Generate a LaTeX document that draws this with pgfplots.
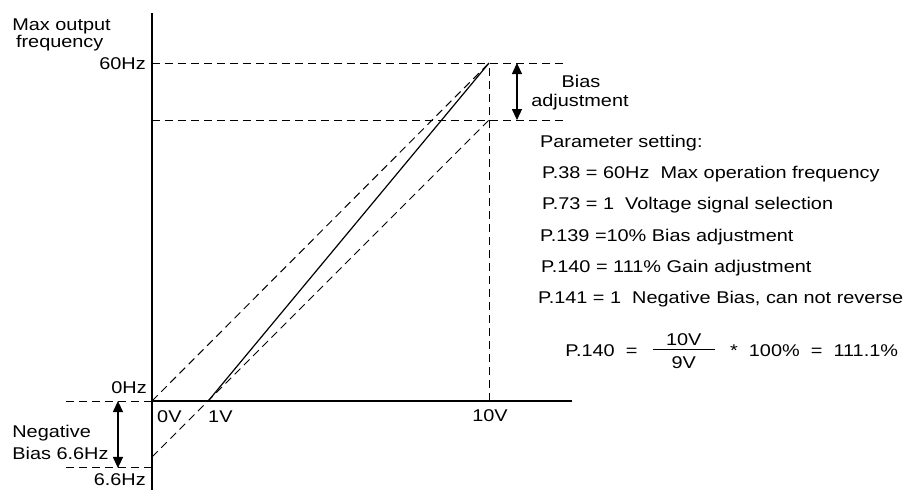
\documentclass[border=0pt]{standalone}
\usepackage{pgfplots}
\pgfplotsset{compat=1.18}
\usepackage{fontspec}
\setmainfont{Liberation Sans}[FakeStretch=1.17]
\usetikzlibrary{arrows.meta}
\tikzset{lbl/.style={font=\fontsize{17}{20}\selectfont, inner sep=0pt}}
\begin{document}
\fontsize{17}{20}\selectfont
\begin{tikzpicture}
\begin{axis}[
  x=33.7pt, y=5.633pt,
  xmin=-4.510, xmax=22.374, ymin=-15.80, ymax=71.19,
  hide axis, clip=false,
]
\path (rel axis cs:0,0) rectangle (rel axis cs:1,1);
% axes
\addplot[black, line width=1.1pt] coordinates {(0,-15.80) (0,68.88)};
\addplot[black, line width=1.1pt] coordinates {(0,0) (12.46,0)};
% dashed guide lines
\pgfplotsset{dl/.style={black, line width=1pt, dash pattern=on 8pt off 5pt}}
\addplot[dl] coordinates {(0,60) (12.34,60)};
\addplot[dl] coordinates {(0,49.88) (12.34,49.88)};
\addplot[dl] coordinates {(10,0) (10,60)};
\addplot[dl] coordinates {(-2.55,0) (0,0)};
\addplot[dl] coordinates {(-2.55,-11.89) (0,-11.89)};
% diagonal lines
\addplot[dl] coordinates {(0,0) (10,60)};
\addplot[dl] coordinates {(0,-9.94) (10,49.88)};
\addplot[black, line width=1.2pt] coordinates {(1.667,0) (10,60)};
% arrows
\addplot[black, line width=1.3pt, {Triangle[length=11pt,width=10pt]}-{Triangle[length=11pt,width=10pt]}] coordinates {(10.83,60) (10.83,49.88)};
\addplot[black, line width=1.3pt, {Triangle[length=11pt,width=10pt]}-{Triangle[length=11pt,width=10pt]}] coordinates {(-1.01,0) (-1.01,-11.89)};
% axis labels
\node[lbl, anchor=base west] at (axis cs:-4.15,65.86) {Max output};
\node[lbl, anchor=base west] at (axis cs:-4.04,62.67) {frequency};
\node[lbl, anchor=base east] at (axis cs:-0.18,58.94) {60Hz};
\node[lbl, anchor=base east] at (axis cs:-0.15,1.42) {0Hz};
\node[lbl, anchor=base east] at (axis cs:-0.18,-14.91) {6.6Hz};
\node[lbl, anchor=base west] at (axis cs:-4.15,-6.39) {Negative};
\node[lbl, anchor=base west] at (axis cs:-4.15,-10.30) {Bias 6.6Hz};
\node[lbl, anchor=base west] at (axis cs:0.15,-3.9) {0V};
\node[lbl, anchor=base] at (axis cs:2.03,-3.9) {1V};
\node[lbl, anchor=base] at (axis cs:10.03,-3.55) {10V};
\node[lbl, anchor=base] at (axis cs:12.73,55.57) {Bias};
\node[lbl, anchor=base] at (axis cs:12.70,52.2) {adjustment};
% parameter text
\node[lbl, anchor=base west] at (axis cs:11.51,45.09) {Parameter setting:};
\node[lbl, anchor=base west] at (axis cs:11.57,39.59) {P.38 = 60Hz\ \ Max operation frequency};
\node[lbl, anchor=base west] at (axis cs:11.57,34.08) {P.73 = 1\ \ Voltage signal selection};
\node[lbl, anchor=base west] at (axis cs:11.51,28.40) {P.139 =10\% Bias adjustment};
\node[lbl, anchor=base west] at (axis cs:11.54,22.90) {P.140 = 111\% Gain adjustment};
\node[lbl, anchor=base west] at (axis cs:11.45,17.40) {P.141 = 1\ \ Negative Bias, can not reverse};
% formula
\node[lbl, anchor=base west] at (axis cs:12.26,7.99) {P.140\ \ =};
\node[lbl, anchor=base] at (axis cs:15.78,9.94) {10V};
\node[lbl] at (axis cs:15.78,9.23) {\rule{62pt}{1pt}};
\node[lbl, anchor=base] at (axis cs:15.78,5.86) {9V};
\node[lbl, anchor=base west] at (axis cs:17.15,7.99) {*\ \ 100\%\ \ =\ \ 111.1\%};
\end{axis}
\end{tikzpicture}
\end{document}
